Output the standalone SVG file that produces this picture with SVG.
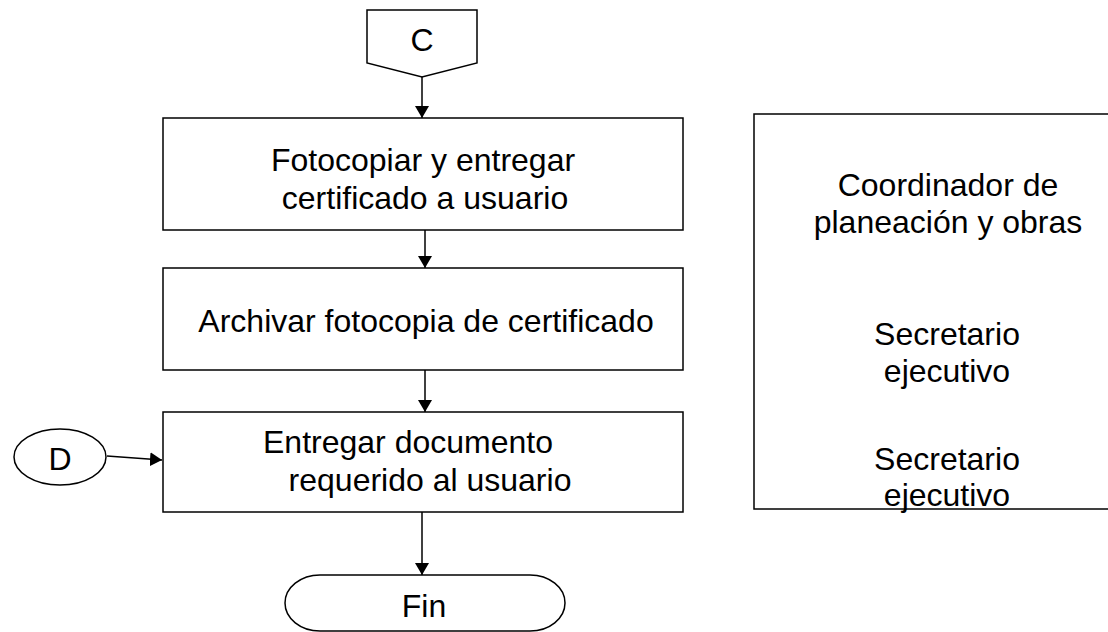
<svg xmlns="http://www.w3.org/2000/svg" width="1108" height="632" viewBox="0 0 1108 632">
<style>
.s{fill:#fff;stroke:#000;stroke-width:1.5}
.t{font-family:"Liberation Sans",Arial,sans-serif;font-size:32px;fill:#000;text-anchor:middle;dominant-baseline:central}
.c{stroke:#000;stroke-width:1.5;fill:none;marker-end:url(#a)}
</style>
<defs>
<marker id="a" markerWidth="12" markerHeight="14" refX="12" refY="7" orient="auto" markerUnits="userSpaceOnUse">
<path d="M0,0 L12,7 L0,14 Z" fill="#000"/>
</marker>
</defs>
<rect width="1108" height="632" fill="#fff"/>
<g id="connectors">
<line class="c" x1="422" y1="77" x2="422" y2="118"/>
<line class="c" x1="425" y1="230" x2="425" y2="268"/>
<line class="c" x1="425" y1="370" x2="425" y2="412"/>
<line class="c" x1="107" y1="456" x2="162" y2="460"/>
<line class="c" x1="422" y1="512" x2="422" y2="575"/>
</g>
<g id="C">
<path class="s" d="M367,10 L477,10 L477,63 L422,77 L367,63 Z"/>
<text class="t" x="422" y="40">C</text>
</g>
<g id="box1">
<rect class="s" x="163" y="118" width="520" height="112"/>
<text class="t" x="423" y="160">Fotocopiar y entregar</text>
<text class="t" x="425" y="198">certificado a usuario</text>
</g>
<g id="box2">
<rect class="s" x="163" y="268" width="520" height="102"/>
<text class="t" x="426" y="321">Archivar fotocopia de certificado</text>
</g>
<g id="box3">
<rect class="s" x="163" y="412" width="520" height="100"/>
<text class="t" x="408" y="442">Entregar documento</text>
<text class="t" x="430" y="480">requerido al usuario</text>
</g>
<g id="D">
<ellipse class="s" cx="60" cy="457" rx="46" ry="28"/>
<text class="t" x="60" y="459">D</text>
</g>
<g id="fin">
<path class="s" d="M320,575 L530,575 A35,28 0 0 1 530,631 L320,631 A35,28 0 0 1 320,575 Z"/>
<text class="t" x="424" y="606">Fin</text>
</g>
<g id="roles">
<rect class="s" x="754" y="114" width="360" height="395"/>
<text class="t" x="948" y="185">Coordinador de</text>
<text class="t" x="948" y="222">planeación y obras</text>
<text class="t" x="947" y="334">Secretario</text>
<text class="t" x="947" y="371">ejecutivo</text>
<text class="t" x="947" y="459">Secretario</text>
<text class="t" x="947" y="495">ejecutivo</text>
</g>
</svg>
